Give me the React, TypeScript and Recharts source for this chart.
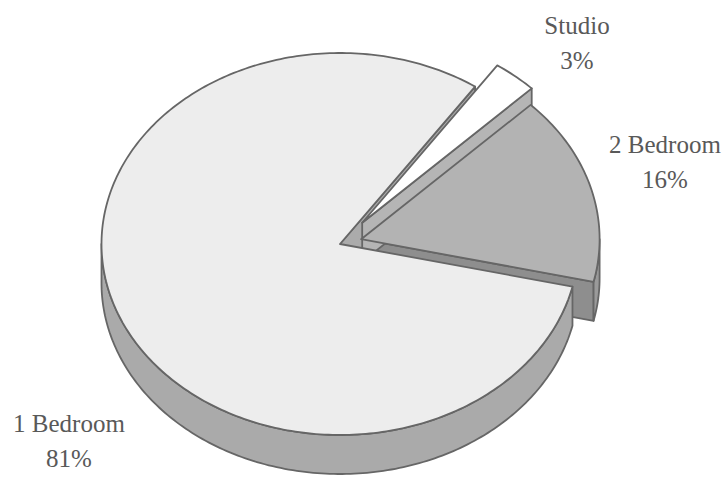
import { Pie, PieChart } from 'recharts'

// slices listed clockwise, starting at the 2 Bedroom upper edge
const categories = ['2 Bedroom', '1 Bedroom', 'Studio']
const shares = [16, 81, 3]

const data = categories.map((name, i) => ({ name, value: shares[i] }))

const W = 728
const H = 477
const CX = 340
const CY = 244
const R = 238.5
const K = 191 / 238.5 // vertical squash of the tilted disc
const DEPTH = 39
const START = 44.7
const EDGE = '#666666'
const FONT = '"Liberation Serif", "Times New Roman", "DejaVu Serif", serif'

const look: Record<string, { top: string; wall: string; face: string; explode: number }> = {
  '2 Bedroom': { top: '#B3B3B3', wall: '#9A9A9A', face: '#8E8E8E', explode: 0.092 },
  '1 Bedroom': { top: '#EDEDED', wall: '#AAAAAA', face: '#ABABAB', explode: 0 },
  Studio: { top: '#FFFFFF', wall: '#C2C2C2', face: '#B5B5B5', explode: 0.145 },
}

// label anchor relative to the pie centre: [dx, first baseline dy]
const labelAt: Record<string, [number, number]> = {
  Studio: [237, -210],
  '2 Bedroom': [325, -91],
  '1 Bedroom': [-271, 188],
}

const rad = (d: number) => (d * Math.PI) / 180

function onRim(ax: number, ay: number, r: number, deg: number): [number, number] {
  return [ax + r * Math.cos(rad(deg)), ay - K * r * Math.sin(rad(deg))]
}

function arc(ax: number, ay: number, r: number, a0: number, a1: number) {
  const pts: [number, number][] = []
  const n = Math.max(2, Math.ceil(Math.abs(a1 - a0)))
  for (let i = 0; i <= n; i++) pts.push(onRim(ax, ay, r, a0 + ((a1 - a0) * i) / n))
  return pts
}

const toPath = (pts: [number, number][]) =>
  'M' + pts.map(([x, y]) => `${x.toFixed(2)},${y.toFixed(2)}`).join('L') + 'Z'

function apexOf(props: any) {
  const name = props.payload?.name ?? props.name
  const s = look[name]
  const mid = props.midAngle
  const r = props.outerRadius
  return {
    s,
    ax: props.cx + s.explode * r * Math.cos(rad(mid)),
    ay: props.cy - s.explode * K * r * Math.sin(rad(mid)),
  }
}

function WallShape(props: any) {
  const { s, ax, ay } = apexOf(props)
  const r = props.outerRadius
  const lo = Math.min(props.startAngle, props.endAngle)
  const hi = Math.max(props.startAngle, props.endAngle)
  const parts: JSX.Element[] = []

  // radial faces, drawn only when they face the viewer
  ;[
    [lo, lo - 90],
    [hi, hi + 90],
  ].forEach(([a, n], i) => {
    if (Math.sin(rad(n)) >= 0) return
    const p = onRim(ax, ay, r, a)
    const pts: [number, number][] = [
      [ax, ay],
      p,
      [p[0], p[1] + DEPTH],
      [ax, ay + DEPTH],
    ]
    parts.push(
      <path key={`f${i}`} d={toPath(pts)} fill={s.face} stroke={EDGE} strokeWidth={1.8} strokeLinejoin="round" />,
    )
  })

  // outer rim, front half only
  for (let k = -2; k <= 2; k++) {
    const a = Math.max(lo, 180 + 360 * k)
    const b = Math.min(hi, 360 + 360 * k)
    if (a >= b) continue
    const top = arc(ax, ay, r, a, b)
    const bottom = arc(ax, ay + DEPTH, r, b, a)
    parts.push(
      <path key={`w${k}`} d={toPath([...top, ...bottom])} fill={s.wall} stroke={EDGE} strokeWidth={1.8} strokeLinejoin="round" />,
    )
  }
  return <g>{parts}</g>
}

function TopShape(props: any) {
  const { s, ax, ay } = apexOf(props)
  const pts: [number, number][] = [[ax, ay], ...arc(ax, ay, props.outerRadius, props.startAngle, props.endAngle)]
  return <path d={toPath(pts)} fill={s.top} stroke={EDGE} strokeWidth={1.8} strokeLinejoin="round" />
}

function SliceLabel(props: any) {
  const name = props.payload?.name ?? props.name
  const [dx, dy] = labelAt[name]
  const x = props.cx + dx
  const y = props.cy + dy
  return (
    <text x={x} y={y} textAnchor="middle" fill="#595959" fontSize={25} style={{ fontFamily: FONT }}>
      <tspan x={x} y={y}>{name}</tspan>
      <tspan x={x} y={y + 35}>{`${Math.round(props.percent * 100)}%`}</tspan>
    </text>
  )
}

export default function App() {
  return (
    <div style={{ position: 'absolute', left: 0, top: 0, width: W, height: H, background: '#fff', fontFamily: FONT }}>
      <PieChart width={W} height={H} margin={{ top: 0, right: 0, bottom: 0, left: 0 }}>
        <Pie
          data={data}
          dataKey="value"
          nameKey="name"
          cx={CX}
          cy={CY}
          outerRadius={R}
          startAngle={START}
          endAngle={START - 360}
          isAnimationActive={false}
          shape={WallShape}
          inactiveShape={WallShape}
          activeShape={WallShape}
          stroke="none"
        />
        <Pie
          data={data}
          dataKey="value"
          nameKey="name"
          cx={CX}
          cy={CY}
          outerRadius={R}
          startAngle={START}
          endAngle={START - 360}
          isAnimationActive={false}
          shape={TopShape}
          inactiveShape={TopShape}
          activeShape={TopShape}
          stroke="none"
          label={SliceLabel}
          labelLine={false}
        />
      </PieChart>
    </div>
  )
}
